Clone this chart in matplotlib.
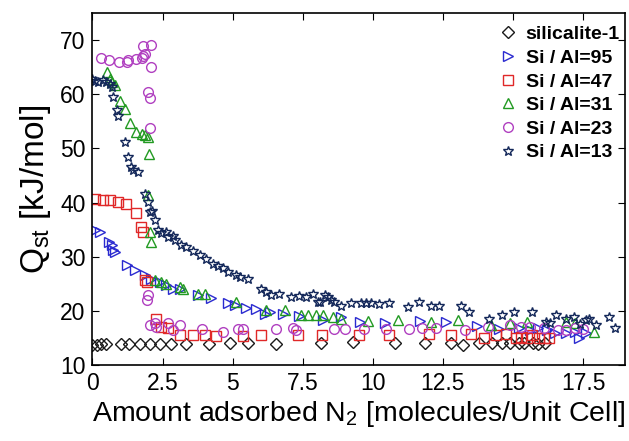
import matplotlib
matplotlib.use('Agg')
import matplotlib.pyplot as plt

plt.rcParams['font.family'] = ['Liberation Sans', 'DejaVu Sans']
plt.rcParams['mathtext.fontset'] = 'custom'
plt.rcParams['mathtext.rm'] = 'Liberation Sans'
plt.rcParams['mathtext.it'] = 'Liberation Sans'

# Isosteric heat of N2 adsorption vs loading, one series per framework
sil_x = [0.0, 0.15, 0.3, 0.5, 1.0, 1.3, 1.7, 2.05, 2.4, 2.8, 3.35, 4.15, 4.9, 5.55, 6.55,
         8.15, 9.3, 10.8, 11.85, 12.8, 13.2, 13.8, 14.25, 14.6, 14.9, 15.2, 15.4, 15.7,
         15.9, 16.15]
sil_y = [13.7, 13.8, 13.9, 13.9, 13.9, 13.9, 13.9, 13.9, 13.9, 13.9, 13.9, 13.9, 14.0,
         14.0, 13.9, 14.0, 14.2, 14.1, 14.1, 14.0, 13.8, 14.1, 14.0, 14.1, 14.1, 14.1,
         14.0, 14.1, 13.9, 14.1]

al95_x = [0.09, 0.27, 0.6, 0.68, 0.74, 0.8, 1.22, 1.51, 1.87, 2.1, 2.4, 2.64, 2.88, 3.12,
          3.77, 4.24, 4.83, 5.07, 5.49, 5.84, 6.14, 6.32, 6.79, 7.38, 8.21, 8.87, 9.55,
          10.45, 11.68, 12.62, 13.7, 14.5, 15.2, 15.6, 15.9, 16.2, 16.5, 16.9, 17.2,
          17.35, 17.6]
al95_y = [34.9, 34.6, 32.7, 32.1, 31.2, 30.9, 28.4, 27.6, 26.6, 25.8, 25.3, 24.7, 24.1,
          24.1, 22.9, 22.4, 21.5, 21.1, 20.6, 20.4, 19.5, 19.8, 19.4, 19.0, 18.3, 18.9,
          17.9, 17.8, 18.1, 18.0, 17.2, 16.6, 16.8, 16.4, 16.8, 16.4, 15.9, 15.9, 16.1,
          15.0, 15.9]

al47_x = [0.09, 0.38, 0.62, 0.9, 1.18, 1.57, 1.72, 1.81, 1.87, 1.95, 2.28, 2.46, 2.7,
          3.11, 3.59, 4.0, 4.42, 5.37, 6.02, 7.32, 8.18, 9.52, 10.59, 12.01, 12.78,
          13.49, 13.97, 14.38, 14.74, 15.1, 15.27, 15.51, 15.69, 15.93, 16.1, 16.28]
al47_y = [40.7, 40.5, 40.4, 40.1, 39.8, 38.0, 35.5, 34.5, 25.7, 25.3, 18.6, 17.1, 16.8,
          15.5, 15.5, 15.5, 15.3, 15.3, 15.5, 15.5, 15.5, 15.5, 15.5, 15.7, 15.5, 15.8,
          15.1, 15.5, 15.8, 15.1, 15.2, 15.1, 15.5, 15.1, 15.1, 15.1]

al31_x = [0.51, 0.62, 0.68, 0.8, 0.98, 1.16, 1.33, 1.57, 1.75, 1.87, 1.99, 2.0, 1.99,
          2.05, 2.1, 2.22, 2.46, 2.64, 3.11, 3.23, 3.77, 4.0, 5.13, 6.2, 6.85, 7.44,
          7.68, 7.98, 8.21, 8.57, 8.87, 9.81, 10.88, 12.07, 13.02, 14.2, 14.9, 15.5,
          16.9, 17.2, 17.9]
al31_y = [64.0, 62.8, 62.2, 61.6, 58.8, 57.3, 54.6, 53.0, 52.7, 52.4, 52.1, 48.9, 41.3,
          34.5, 32.7, 25.7, 25.3, 25.0, 24.4, 24.1, 23.2, 23.2, 21.7, 20.1, 20.1, 19.2,
          19.2, 19.2, 19.2, 18.9, 18.6, 18.2, 18.3, 18.0, 18.3, 17.4, 17.7, 18.0, 18.0,
          17.7, 16.1]

al23_x = [0.29, 0.6, 0.95, 1.22, 1.27, 1.55, 1.75, 1.81, 1.87, 1.79, 2.07, 2.07, 1.99,
          2.05, 2.05, 1.99, 1.96, 2.05, 2.22, 2.28, 2.7, 2.88, 3.11, 3.89, 4.65, 5.19,
          5.37, 6.56, 7.15, 7.27, 8.63, 8.99, 9.7, 10.47, 11.3, 11.77, 12.25, 13.3, 14.1,
          14.9, 15.3, 15.6, 16.1, 16.6, 16.9, 17.2, 17.5]
al23_y = [66.7, 66.3, 66.0, 66.0, 66.2, 66.4, 66.7, 67.1, 67.4, 68.9, 69.1, 65.0, 60.3,
          59.3, 53.8, 22.9, 22.0, 17.4, 17.7, 17.1, 17.7, 16.4, 17.4, 16.6, 16.1, 16.6,
          16.6, 16.6, 16.8, 16.4, 16.6, 16.6, 16.6, 16.6, 16.6, 16.8, 16.8, 16.4, 17.1,
          17.4, 17.1, 17.1, 16.8, 16.4, 16.4, 16.8, 16.6]

al13_x = [0.0, 0.09, 0.2, 0.38, 0.5, 0.62, 0.68, 0.74, 0.86, 0.92, 1.16, 1.27, 1.39,
          1.45, 1.63, 1.89, 1.99, 2.05, 2.11, 2.22, 2.34, 2.46, 2.64, 2.7, 2.88, 2.94,
          3.17, 3.35, 3.59, 3.83, 4.06, 4.3, 4.48, 4.65, 4.85, 5.13, 5.25, 5.55, 6.02,
          6.2, 6.38, 6.67, 7.09, 7.35, 7.62, 7.86, 8.04, 8.1, 8.28, 8.4, 8.51, 8.63, 8.87,
          9.23, 9.58, 9.76, 9.94, 10.23, 10.59, 11.24, 11.65, 12.07, 12.37, 13.14, 13.43,
          14.14, 14.62, 15.04, 15.69, 16.16, 16.3, 16.52, 16.88, 17.17, 17.4, 17.59,
          17.71, 17.94, 18.42, 18.65]
al13_y = [62.8, 62.5, 62.2, 62.6, 62.2, 61.8, 61.3, 59.4, 57.0, 56.0, 51.2, 48.4, 46.5,
          46.0, 45.6, 41.6, 40.1, 38.3, 38.5, 36.7, 34.9, 34.4, 34.5, 33.7, 33.9, 33.0,
          32.1, 31.8, 31.1, 30.3, 29.6, 28.7, 28.2, 28.0, 27.2, 26.6, 26.3, 25.8, 24.1,
          23.5, 22.9, 23.2, 22.5, 22.8, 22.6, 23.2, 21.7, 21.7, 22.9, 22.6, 22.0, 21.7,
          21.0, 21.4, 21.5, 21.4, 21.5, 21.2, 21.4, 20.7, 21.7, 21.0, 21.0, 21.0, 19.8,
          18.6, 19.2, 19.8, 19.8, 18.0, 17.8, 19.2, 18.6, 18.9, 17.6, 18.3, 18.6, 17.4,
          18.9, 16.8]

series = [
    ('silicalite-1', sil_x, sil_y, 'D', '#1a1a1a', 6),
    ('Si / Al=95', al95_x, al95_y, '>', '#2a2ad0', 7.5),
    ('Si / Al=47', al47_x, al47_y, 's', '#e02828', 6.5),
    ('Si / Al=31', al31_x, al31_y, '^', '#229a22', 7.5),
    ('Si / Al=23', al23_x, al23_y, 'o', '#b040c0', 7),
    ('Si / Al=13', al13_x, al13_y, '*', '#14285a', 7.5),
]

fig = plt.figure(figsize=(6.29, 4.41), dpi=100)
ax = fig.add_axes([0.147, 0.172, 0.847, 0.799])

for label, xs, ys, mk, col, ms in series:
    ax.plot(xs, ys, linestyle='none', marker=mk, markersize=ms,
            markerfacecolor='none', markeredgecolor=col, markeredgewidth=1.0,
            label=label)

ax.set_xlim(0, 19)
ax.set_ylim(10, 75)
ax.set_xticks([0, 2.5, 5, 7.5, 10, 12.5, 15, 17.5])
ax.set_xticklabels(['0', '2.5', '5', '7.5', '10', '12.5', '15', '17.5'])
ax.set_yticks([10, 20, 30, 40, 50, 60, 70])
ax.tick_params(direction='in', top=True, right=True, length=5, width=0.8,
               labelsize=16.5, pad=5)
for sp in ax.spines.values():
    sp.set_linewidth(1.2)

ax.set_xlabel('Amount adsorbed N$_2$ [molecules/Unit Cell]', fontsize=20.5, labelpad=3)
ax.set_ylabel('Q$_{\\mathrm{st}}$ [kJ/mol]', fontsize=24, labelpad=5)

ax.legend(loc='upper right', bbox_to_anchor=(1.008, 0.991), frameon=False,
          prop={'weight': 'bold', 'size': 14},
          handletextpad=0.3, labelspacing=0.31, handlelength=1.2,
          borderaxespad=0.2, borderpad=0.3)

fig.savefig('out.png', dpi=100)
